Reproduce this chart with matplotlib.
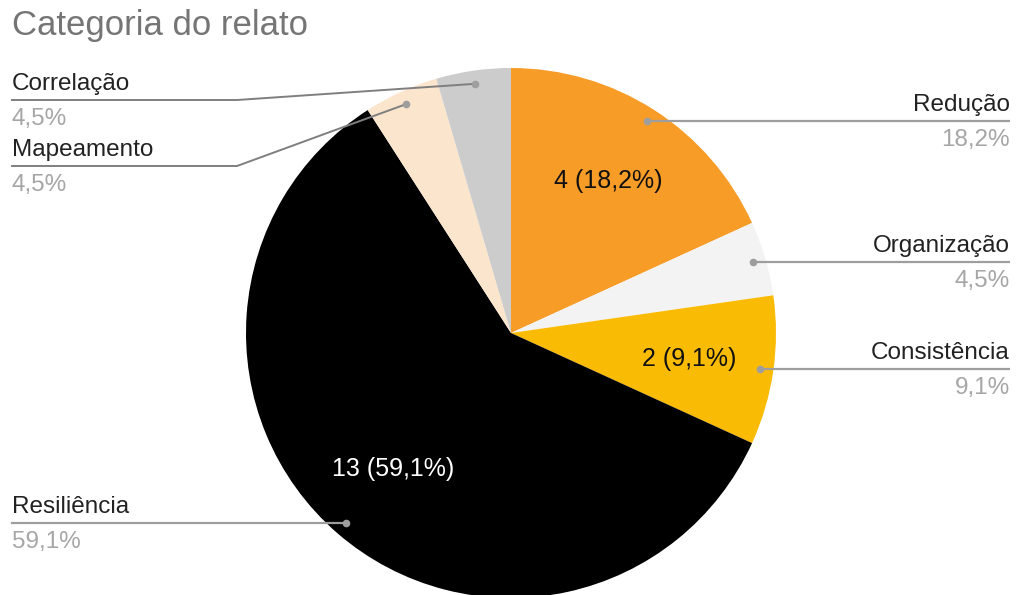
import matplotlib
matplotlib.use("Agg")
import numpy as np
import matplotlib.pyplot as plt

plt.rcParams['font.family'] = ['Liberation Sans', 'DejaVu Sans']

# Report categories, clockwise from the top
categories = ['Redução', 'Organização', 'Consistência', 'Resiliência', 'Mapeamento', 'Correlação']
counts = [4, 1, 2, 13, 1, 1]
colors = ['#f89c28', '#f3f3f3', '#fabb05', '#000000', '#fce5cd', '#cccccc']
inner_text_colors = ['#111111', '#111111', '#111111', '#ffffff', '#111111', '#111111']

W, H = 1016, 595
cx, cy, R = 511, 333, 265   # pie centre and radius in pixels (y from top)

total = sum(counts)


def fmt_pct(v):
    return f"{v:.1f}".replace('.', ',') + '%'


fig = plt.figure(figsize=(W / 100, H / 100), dpi=100)
ax = fig.add_axes([0, 0, 1, 1])

# inverted y axis mirrors the pie, so counterclock=True turns clockwise on screen
wedges, _ = ax.pie(counts, colors=colors, startangle=-90, counterclock=True,
                   center=(cx, cy), radius=R, frame=True,
                   wedgeprops=dict(linewidth=0))
ax.set_xlim(0, W)
ax.set_ylim(H, 0)
ax.set_aspect('equal')
ax.axis('off')

# angle of each slice middle, measured clockwise from the top
cum = np.cumsum([0] + counts)
mids = [(cum[i] + cum[i + 1]) / 2 / total * 2 * np.pi for i in range(len(counts))]


def point(theta, r):
    return cx + r * np.sin(theta), cy - r * np.cos(theta)


# values inside the larger slices
for i, c in enumerate(counts):
    pct = c / total * 100
    if pct < 5:
        continue
    x, y = point(mids[i], 0.68 * R)
    ax.text(x, y, f"{c} ({fmt_pct(pct)})", ha='center', va='center',
            fontsize=18, color=inner_text_colors[i])

# outside labels with leader lines
line_color = '#9e9e9e'
name_color = '#222222'
pct_color = '#a6a6a6'
label_size = 17.5

right_x = 1010
left_x = 12
elbow_x = 237
left_rows = {'Correlação': 100, 'Mapeamento': 166}

for i, name in enumerate(categories):
    dx, dy = point(mids[i], 0.95 * R)
    pct_txt = fmt_pct(counts[i] / total * 100)
    if dx >= cx:
        ly = dy
        ax.plot([dx, right_x], [ly, ly], color=line_color, lw=1.6, solid_capstyle='butt')
        tx, ha = right_x, 'right'
    else:
        if name in left_rows:
            ly = left_rows[name]
            ax.plot([dx, elbow_x, left_x], [dy, ly, ly], color='#7f7f7f', lw=1.4)
        else:
            ly = dy
            ax.plot([dx, left_x], [ly, ly], color=line_color, lw=1.6)
        tx, ha = left_x, 'left'
    ax.plot(dx, dy, 'o', color=line_color, ms=5.5, mec='none')
    ax.text(tx, ly - 5, name, ha=ha, va='bottom', fontsize=label_size, color=name_color)
    ax.text(tx, ly + 8, pct_txt, ha=ha, va='top', fontsize=label_size, color=pct_color)

ax.text(12, 25, 'Categoria do relato', ha='left', va='center',
        fontsize=25, color='#757575')

fig.savefig('out.png', dpi=100, facecolor='white')
